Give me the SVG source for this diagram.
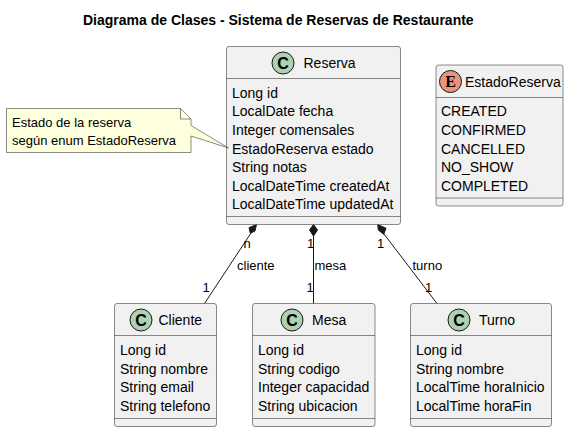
<svg xmlns="http://www.w3.org/2000/svg" width="569" height="432" viewBox="0 0 569 432">
<style>
text{font-family:"Liberation Sans",Arial,sans-serif;font-size:14px;fill:#000}
.title{font-weight:bold}
.lbl{font-size:13px}
.note-text{font-size:13px}
.box{fill:#F1F1F1;stroke:#181818;stroke-width:.5}
.sep{stroke:#181818;stroke-width:.5;fill:none}
.circ{fill:#ADD1B2;stroke:#181818;stroke-width:1}
.circE{fill:#EB937F;stroke:#181818;stroke-width:1}
.conn{stroke:#181818;stroke-width:1;fill:none}
.dia{fill:#181818;stroke:#181818;stroke-width:1}
.note{fill:#FEFFDD;stroke:#181818;stroke-width:.5}
.glyph{font-weight:bold;font-size:16px;text-anchor:middle}
.glyphE{font-family:"Liberation Serif",serif;font-weight:bold;font-size:16px;text-anchor:middle}
</style>
<text class="title" x="83" y="25">Diagrama de Clases - Sistema de Reservas de Restaurante</text>
<g id="connectors">
<line class="conn" x1="251" y1="233" x2="204.500" y2="303.500"/>
<polygon class="dia" points="256.500,224.500 249,227.700 250.300,233.300 255,231"/>
<line class="conn" x1="313.500" y1="236" x2="313.500" y2="303.500"/>
<polygon class="dia" points="313.500,224.500 309.500,230 313.500,236 317.500,230"/>
<line class="conn" x1="384" y1="234" x2="437" y2="303.500"/>
<polygon class="dia" points="377.700,224.500 378.300,230 383.700,234.300 386,228.300"/>
<text class="lbl" x="237" y="270">cliente</text>
<text class="lbl" x="314.500" y="270">mesa</text>
<text class="lbl" x="412.500" y="270">turno</text>
<text class="lbl" x="243.500" y="248">n</text>
<text class="lbl" x="307" y="248">1</text>
<text class="lbl" x="377" y="248">1</text>
<text class="lbl" x="202.500" y="292">1</text>
<text class="lbl" x="306.500" y="292">1</text>
<text class="lbl" x="425" y="292">1</text>
</g>
<g id="Reserva">
<rect class="box" x="226.500" y="46.500" width="174" height="178" rx="2.500"/>
<line class="sep" x1="226.500" y1="78.500" x2="400.500" y2="78.500"/>
<line class="sep" x1="226.500" y1="216.500" x2="400.500" y2="216.500"/>
<circle class="circ" cx="283" cy="63" r="11"/>
<text class="glyph" x="283" y="68.500">C</text>
<text x="303.500" y="68">Reserva</text>
<text x="232" y="98">Long id</text>
<text x="232" y="116">LocalDate fecha</text>
<text x="232" y="135">Integer comensales</text>
<text x="232" y="154">EstadoReserva estado</text>
<text x="232" y="172">String notas</text>
<text x="232" y="191">LocalDateTime createdAt</text>
<text x="232" y="209">LocalDateTime updatedAt</text>
</g>
<g id="EstadoReserva">
<rect class="box" x="436" y="65" width="127" height="141" rx="2.500"/>
<line class="sep" x1="436" y1="97.500" x2="563" y2="97.500"/>
<line class="sep" x1="436" y1="198" x2="563" y2="198"/>
<circle class="circE" cx="450.500" cy="81.500" r="11"/>
<text class="glyphE" x="450.500" y="87">E</text>
<text x="465" y="87">EstadoReserva</text>
<text x="441" y="116">CREATED</text>
<text x="441" y="135">CONFIRMED</text>
<text x="441" y="153.500">CANCELLED</text>
<text x="441" y="172">NO_SHOW</text>
<text x="441" y="191">COMPLETED</text>
</g>
<g id="note">
<path class="note" d="M6.500,108.500H180.500L191,119V125.500L228.500,148L191,136V152.500H6.500Z"/>
<path class="sep" d="M180.500,108.500V119H191"/>
<text class="note-text" x="12" y="127">Estado de la reserva</text>
<text class="note-text" x="12" y="145">según enum EstadoReserva</text>
</g>
<g id="Cliente">
<rect class="box" x="114.500" y="303.500" width="102" height="123" rx="2.500"/>
<line class="sep" x1="114.500" y1="335.500" x2="216.500" y2="335.500"/>
<line class="sep" x1="114.500" y1="418.500" x2="216.500" y2="418.500"/>
<circle class="circ" cx="141" cy="320" r="11"/>
<text class="glyph" x="141" y="325.500">C</text>
<text x="158.500" y="325">Cliente</text>
<text x="120" y="355">Long id</text>
<text x="120" y="374">String nombre</text>
<text x="120" y="392">String email</text>
<text x="120" y="411">String telefono</text>
</g>
<g id="Mesa">
<rect class="box" x="252.500" y="303.500" width="122.500" height="123" rx="2.500"/>
<line class="sep" x1="252.500" y1="335.500" x2="375" y2="335.500"/>
<line class="sep" x1="252.500" y1="418.500" x2="375" y2="418.500"/>
<circle class="circ" cx="292" cy="320" r="11"/>
<text class="glyph" x="292" y="325.500">C</text>
<text x="312" y="325">Mesa</text>
<text x="258" y="355">Long id</text>
<text x="258" y="374">String codigo</text>
<text x="258" y="392">Integer capacidad</text>
<text x="258" y="411">String ubicacion</text>
</g>
<g id="Turno">
<rect class="box" x="410.500" y="303.500" width="141" height="123" rx="2.500"/>
<line class="sep" x1="410.500" y1="335.500" x2="551.500" y2="335.500"/>
<line class="sep" x1="410.500" y1="418.500" x2="551.500" y2="418.500"/>
<circle class="circ" cx="459" cy="320" r="11"/>
<text class="glyph" x="459" y="325.500">C</text>
<text x="479" y="325">Turno</text>
<text x="416" y="355">Long id</text>
<text x="416" y="374">String nombre</text>
<text x="416" y="392">LocalTime horaInicio</text>
<text x="416" y="411">LocalTime horaFin</text>
</g>
</svg>
